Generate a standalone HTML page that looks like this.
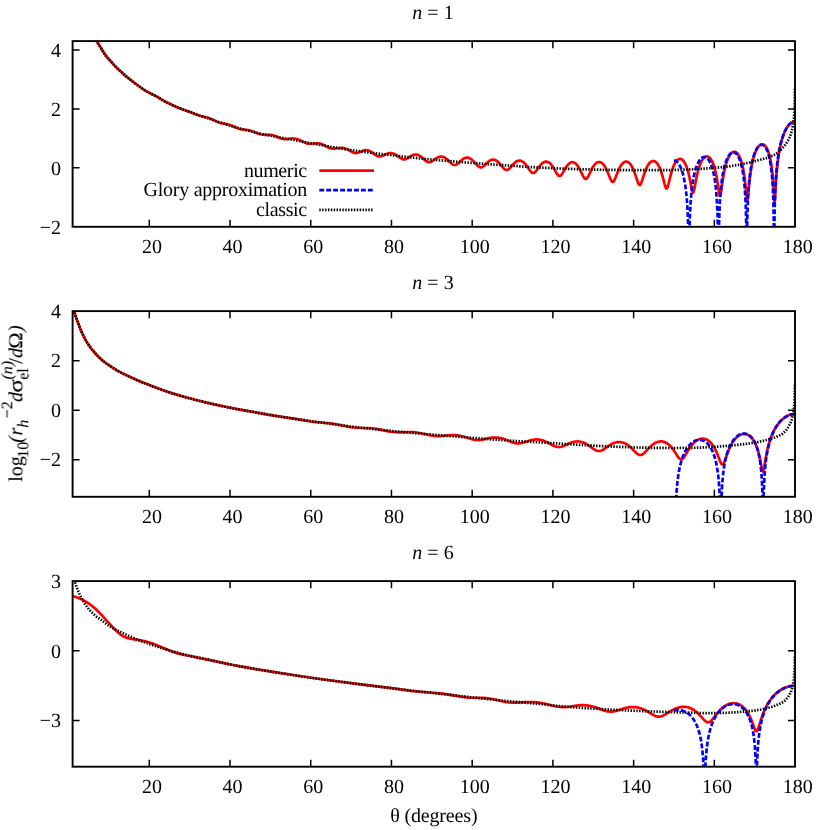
<!DOCTYPE html>
<html><head><meta charset="utf-8"><title>chart</title>
<style>html,body{margin:0;padding:0;background:#fff}svg{display:block}text{font-family:"Liberation Serif",serif;font-size:20px;fill:#000;text-rendering:geometricPrecision}#txt{opacity:.999}</style></head>
<body>
<svg width="830" height="830" viewBox="0 0 830 830">
<rect width="830" height="830" fill="#fff"/>
<clipPath id="c1"><rect x="72.6" y="41.1" width="722.4" height="185.7"/></clipPath>
<g clip-path="url(#c1)" fill="none" stroke-linejoin="round">
<path d="M72.60,11.15 83.40,11.15 83.80,11.60 85.00,15.26 86.60,19.73 88.20,23.83 89.80,27.60 91.40,31.10 93.40,35.14 95.00,38.15 97.00,41.66 98.20,43.64 101.00,48.00 104.20,53.32 105.80,55.57 107.80,58.00 112.20,62.98 114.60,65.56 117.00,67.99 119.40,70.26 123.00,73.50 126.60,76.66 129.40,79.01 134.20,82.73 142.20,88.52 144.60,90.13 147.00,91.58 150.20,93.29 157.80,97.09 159.40,98.04 163.00,100.40 165.40,101.70 175.00,106.28 178.20,107.71 181.40,108.94 186.60,110.66 189.00,111.52 197.40,114.96 200.60,115.95 205.80,117.17 208.20,117.84 211.00,118.90 216.60,121.53 219.00,122.48 221.40,123.16 226.60,124.13 229.00,124.73 231.40,125.59 237.00,128.03 239.40,128.82 240.60,129.10 242.20,129.38 247.80,130.03 250.20,130.53 253.00,131.43 258.60,133.74 260.20,134.26 261.40,134.54 262.60,134.73 264.20,134.83 268.20,134.76 269.80,134.80 271.40,134.96 272.60,135.18 273.80,135.50 275.40,136.05 279.80,137.97 281.00,138.44 283.00,139.00 284.60,139.19 286.20,139.17 290.60,138.58 292.60,138.43 294.20,138.49 295.80,138.73 297.40,139.17 299.00,139.77 300.60,140.50 303.80,142.11 305.40,142.83 307.00,143.37 308.20,143.63 309.40,143.77 311.00,143.78 315.40,143.33 317.00,143.26 318.60,143.37 319.80,143.58 321.00,143.92 322.60,144.54 324.20,145.33 327.40,147.06 328.60,147.62 330.20,148.20 331.40,148.48 332.60,148.61 334.20,148.60 339.00,148.02 340.60,147.92 342.20,147.96 343.80,148.18 345.00,148.48 346.60,149.05 348.20,149.80 352.60,152.21 353.80,152.70 355.00,153.00 356.20,153.08 357.00,153.00 357.80,152.83 359.40,152.27 362.60,150.88 364.20,150.39 365.80,150.19 367.00,150.25 367.80,150.40 368.60,150.62 369.40,150.93 370.60,151.54 372.20,152.55 375.40,154.85 377.00,155.78 377.80,156.11 378.60,156.33 379.80,156.44 381.00,156.28 382.20,155.91 386.20,154.07 387.80,153.48 389.00,153.20 389.80,153.11 391.40,153.15 393.00,153.50 393.80,153.79 395.00,154.36 397.00,155.60 400.20,157.91 401.80,158.85 403.00,159.29 404.20,159.43 405.40,159.25 406.60,158.79 407.80,158.11 411.00,156.00 412.20,155.34 413.00,154.98 413.80,154.72 414.60,154.55 415.40,154.48 416.20,154.50 417.00,154.63 417.80,154.86 418.60,155.18 419.40,155.60 420.20,156.10 421.40,157.00 425.00,160.17 426.20,161.10 427.00,161.60 427.80,161.97 428.60,162.17 429.00,162.22 429.40,162.22 430.20,162.09 431.00,161.82 431.80,161.43 433.00,160.67 436.20,158.38 437.40,157.66 438.20,157.28 439.40,156.85 440.20,156.69 441.00,156.62 441.80,156.66 442.60,156.79 443.40,157.02 444.20,157.35 445.40,158.03 446.20,158.60 447.40,159.59 450.60,162.69 451.80,163.75 452.60,164.33 453.40,164.74 454.20,164.97 454.60,165.01 455.00,165.00 455.80,164.82 456.60,164.45 457.40,163.93 458.60,162.93 461.80,159.99 463.00,159.07 463.80,158.57 465.00,158.00 465.80,157.76 466.60,157.64 467.80,157.67 468.60,157.84 469.40,158.11 470.20,158.50 471.40,159.29 472.20,159.93 473.40,161.07 477.00,165.05 478.20,166.20 479.40,167.03 480.20,167.33 480.60,167.40 481.00,167.41 481.80,167.25 482.60,166.88 483.40,166.34 484.60,165.28 487.80,162.16 489.00,161.18 489.80,160.65 491.00,160.04 491.80,159.78 492.60,159.65 493.80,159.67 494.60,159.83 495.40,160.12 496.20,160.52 497.40,161.35 498.20,162.03 499.40,163.25 503.00,167.57 504.20,168.82 505.00,169.45 505.40,169.69 506.20,169.97 506.60,170.01 507.00,169.99 507.80,169.74 508.20,169.52 509.00,168.93 510.20,167.75 513.80,163.68 515.00,162.56 515.80,161.94 517.00,161.23 518.20,160.78 519.40,160.62 520.20,160.68 521.00,160.87 522.20,161.39 523.00,161.90 524.20,162.91 525.00,163.73 526.20,165.17 529.40,169.73 530.60,171.32 531.40,172.16 531.80,172.48 532.60,172.91 533.00,173.00 533.40,173.00 533.80,172.92 534.20,172.75 534.60,172.50 535.40,171.79 536.60,170.35 539.00,166.98 540.20,165.42 541.40,164.07 542.20,163.32 543.40,162.44 544.60,161.87 545.80,161.63 546.60,161.64 547.80,161.95 548.60,162.34 549.80,163.21 551.00,164.41 551.80,165.39 553.00,167.12 554.20,169.09 556.20,172.60 557.40,174.45 558.20,175.36 558.60,175.68 559.00,175.90 559.40,176.00 559.80,175.99 560.20,175.86 560.60,175.62 561.00,175.28 561.80,174.33 562.60,173.12 565.00,168.98 566.20,167.05 567.40,165.40 568.60,164.06 569.80,163.08 571.00,162.46 571.80,162.25 572.20,162.21 573.00,162.24 574.20,162.61 575.40,163.35 576.60,164.47 577.40,165.44 578.20,166.57 579.40,168.58 580.60,170.91 583.00,175.93 583.80,177.36 584.60,178.42 585.00,178.76 585.40,178.96 585.80,179.00 586.20,178.89 586.60,178.63 587.00,178.23 587.80,177.08 588.60,175.60 591.80,168.99 593.00,166.89 594.20,165.15 595.40,163.79 596.60,162.81 597.80,162.22 598.60,162.03 599.40,162.01 600.20,162.16 601.00,162.48 602.20,163.29 603.40,164.50 604.60,166.12 605.80,168.18 607.00,170.66 608.20,173.51 610.20,178.55 611.00,180.27 611.40,180.96 611.80,181.50 612.20,181.85 612.60,182.00 613.00,181.94 613.40,181.67 613.80,181.20 614.60,179.79 615.40,177.94 617.40,172.77 618.60,169.92 619.80,167.45 621.00,165.43 622.20,163.84 623.00,163.02 623.80,162.39 624.20,162.15 625.00,161.79 625.80,161.62 626.60,161.62 627.40,161.81 628.20,162.19 629.40,163.11 630.60,164.48 631.80,166.32 633.00,168.66 634.20,171.53 635.40,174.90 637.40,181.05 638.20,183.18 638.60,184.00 639.00,184.60 639.40,184.94 639.80,184.99 640.20,184.74 640.60,184.22 641.00,183.45 641.40,182.50 642.20,180.20 644.20,173.95 645.00,171.67 646.20,168.67 647.00,166.96 647.80,165.48 649.00,163.68 649.80,162.75 650.60,162.02 651.40,161.49 652.20,161.15 653.00,161.00 653.80,161.04 654.60,161.28 655.40,161.71 656.60,162.74 657.40,163.70 658.20,164.89 659.40,167.14 660.60,170.01 661.80,173.57 663.00,177.83 664.60,184.12 665.40,186.84 665.80,187.82 666.20,188.43 666.60,188.60 667.00,188.30 667.40,187.57 667.80,186.46 668.60,183.54 670.60,175.32 671.40,172.40 672.60,168.62 673.40,166.49 674.20,164.66 675.40,162.45 676.20,161.29 677.00,160.37 677.80,159.67 678.60,159.20 679.40,158.94 680.20,158.89 681.00,159.05 681.80,159.44 682.60,160.04 683.40,160.89 684.20,161.98 685.00,163.34 685.80,164.99 686.60,166.97 687.80,170.62 689.00,175.24 689.80,178.92 691.80,189.26 692.20,190.92 692.60,192.06 693.00,192.50 693.40,192.18 693.80,191.15 694.60,187.64 696.20,179.10 697.40,173.50 698.60,168.92 699.40,166.37 700.20,164.19 701.00,162.32 701.80,160.75 702.60,159.45 703.80,157.95 704.60,157.24 705.40,156.75 706.20,156.47 707.00,156.40 707.40,156.45 708.20,156.70 708.60,156.90 709.40,157.48 710.20,158.30 711.00,159.36 711.80,160.70 712.60,162.33 713.40,164.30 714.20,166.66 715.40,171.07 716.60,176.78 717.40,181.48 719.00,192.32 719.40,194.51 719.80,195.81 720.20,195.86 720.60,194.64 721.00,192.45 722.60,181.09 723.80,173.82 725.00,168.08 725.80,164.95 726.60,162.29 727.40,160.01 728.20,158.07 729.00,156.44 730.20,154.49 731.00,153.50 731.40,153.09 732.20,152.44 732.60,152.20 733.40,151.87 734.20,151.75 734.60,151.77 735.40,151.98 735.80,152.16 736.60,152.69 737.40,153.47 737.80,153.95 738.60,155.11 739.80,157.41 740.60,159.37 741.40,161.75 742.20,164.63 743.40,170.14 744.20,174.89 745.00,180.84 745.40,184.35 746.60,196.50 747.00,199.56 747.40,200.32 747.80,198.30 749.40,181.85 749.80,178.28 750.60,172.19 751.80,165.07 752.60,161.30 753.40,158.11 754.20,155.40 755.40,152.05 756.60,149.42 757.80,147.40 759.00,145.90 759.40,145.52 760.20,144.90 760.60,144.68 761.40,144.38 762.20,144.28 762.60,144.32 763.40,144.54 763.80,144.74 764.60,145.31 765.00,145.69 765.80,146.64 766.20,147.23 767.00,148.63 767.80,150.38 768.60,152.55 769.40,155.23 770.20,158.55 771.00,162.73 771.40,165.25 772.20,171.46 772.60,175.36 773.40,185.59 774.20,199.28 774.60,203.00 775.00,199.18 775.80,184.48 776.20,178.33 776.60,173.13 777.40,164.81 778.20,158.36 779.00,153.12 779.80,148.74 781.00,143.33 782.20,138.92 783.00,136.42 783.80,134.20 784.60,132.22 785.40,130.47 786.20,128.91 787.00,127.53 787.80,126.32 789.00,124.78 789.92,123.81 790.81,123.05 791.86,122.35 792.87,121.87 793.91,121.58 794.94,121.48" stroke="#ff0000" stroke-width="2.70"/>
<path d="M673.98,160.45 674.87,160.61 675.76,160.97 676.64,161.54 677.45,162.27 678.26,163.19 679.07,164.33 679.79,165.57 680.52,167.02 681.24,168.72 681.89,170.47 683.10,174.49 684.23,179.40 685.20,184.92 686.01,190.95 686.65,197.30 687.22,204.70 687.62,211.83 687.94,219.52 688.27,230.63 688.67,256.80 688.99,256.80 689.07,255.94 689.24,241.74 689.56,225.96 690.04,212.51 690.61,202.54 691.33,193.70 692.14,186.58 693.11,180.17 693.68,177.14 694.32,174.14 695.13,170.94 695.94,168.24 696.82,165.73 697.71,163.63 698.68,161.74 699.73,160.09 700.78,158.82 701.91,157.84 702.47,157.50 703.04,157.24 703.60,157.08 704.17,157.01 704.73,157.04 705.30,157.16 706.35,157.63 707.40,158.44 708.45,159.64 709.42,161.11 710.38,162.99 711.35,165.34 712.32,168.29 713.13,171.30 713.94,174.98 714.58,178.57 715.23,182.92 715.79,187.61 716.28,192.60 717.00,202.84 717.57,215.53 717.97,231.50 718.30,256.80 718.54,256.80 718.62,255.03 718.78,238.85 719.02,225.20 719.34,213.95 719.75,204.53 720.31,195.36 721.04,187.02 721.93,179.63 722.90,173.58 723.54,170.32 724.19,167.51 724.91,164.80 725.72,162.23 726.53,160.06 727.42,158.05 728.30,156.39 729.27,154.93 730.24,153.82 731.21,153.02 732.18,152.52 732.74,152.36 733.23,152.31 733.79,152.34 734.28,152.45 735.25,152.89 736.22,153.66 737.10,154.66 737.75,155.60 738.31,156.57 739.44,158.99 740.49,161.93 741.46,165.40 742.35,169.44 743.08,173.59 743.80,178.84 744.37,184.04 744.85,189.70 745.26,195.75 745.58,202.00 745.90,210.38 746.31,227.63 746.63,256.80 746.79,256.80 746.87,253.53 747.03,234.79 747.19,224.06 747.44,213.42 747.84,201.90 748.32,192.63 748.97,183.91 749.78,176.07 750.66,169.62 751.23,166.29 751.87,163.02 752.52,160.20 753.25,157.47 754.05,154.87 754.86,152.66 755.75,150.62 756.64,148.93 757.61,147.45 758.57,146.31 759.54,145.49 760.51,144.98 761.48,144.78 762.45,144.89 763.42,145.32 764.31,146.02 764.95,146.72 765.60,147.61 766.24,148.69 766.81,149.82 767.94,152.67 768.99,156.22 769.88,160.14 770.68,164.74 771.41,170.16 771.97,175.66 772.46,181.81 772.86,188.60 773.18,195.93 773.43,203.38 773.75,219.06 774.07,256.80 774.15,256.80 774.40,227.04 774.56,214.96 774.80,203.43 775.20,191.21 775.77,180.14 776.41,171.36 777.22,163.32 778.27,155.53 778.92,151.67 779.64,147.92 780.45,144.33 781.26,141.21 782.14,138.22 783.11,135.39 784.08,132.94 785.13,130.64 786.26,128.53 787.39,126.74 788.60,125.16 789.89,123.81 791.19,122.79 792.48,122.07 793.77,121.64 795.06,121.50" stroke="#0000ff" stroke-width="2.70" stroke-dasharray="4.9 2.04"/>
<path d="M72.60,11.15 83.40,11.15 83.80,11.60 85.40,16.42 87.00,20.79 88.60,24.80 90.20,28.50 91.80,31.93 93.80,35.91 95.80,39.58 97.80,42.99 101.00,48.00 104.20,53.32 105.00,54.50 106.20,56.08 108.60,58.91 113.80,64.72 116.60,67.60 119.80,70.62 126.60,76.66 131.00,80.29 134.60,83.03 140.60,87.38 143.00,89.07 145.00,90.39 147.00,91.58 149.00,92.67 158.20,97.31 163.00,100.41 165.00,101.54 167.40,102.73 171.80,104.77 178.20,107.61 183.80,109.89 190.20,112.23 197.40,114.72 208.20,118.34 218.60,122.00 225.80,124.34 235.00,127.12 244.20,129.68 253.80,132.12 261.80,133.93 275.00,136.59 287.80,139.01 333.00,147.21 346.20,149.43 356.60,150.93 369.40,152.57 400.60,156.23 417.40,158.11 427.40,159.15 437.40,160.09 464.20,162.34 491.40,164.39 527.40,166.87 543.00,167.75 561.80,168.58 581.00,169.23 601.80,169.75 625.40,170.11 648.60,170.21 667.80,170.08 675.40,169.93 682.60,169.71 691.40,169.34 700.20,168.87 708.20,168.33 716.20,167.68 723.00,167.04 728.20,166.44 733.40,165.69 739.00,164.73 744.20,163.71 748.60,162.73 763.40,158.93 765.80,158.28 767.80,157.65 769.40,157.06 771.00,156.38 773.00,155.46 775.00,154.38 776.60,153.36 778.20,152.15 780.20,150.37 782.60,147.92 784.20,146.16 785.80,144.12 787.00,142.35 788.20,140.28 789.40,137.82 790.28,135.67 791.10,133.24 791.79,130.82 792.42,128.08 792.97,125.05 793.41,122.01 793.79,118.67 794.11,115.03 794.38,110.78 794.73,101.37 794.94,88.62" stroke="#000" stroke-width="2.70" stroke-dasharray="1.44 1.44"/>
</g>
<path d="M149.30,226.80v-7.0M149.30,41.15v7.0M230.02,226.80v-7.0M230.02,41.15v7.0M310.74,226.80v-7.0M310.74,41.15v7.0M391.46,226.80v-7.0M391.46,41.15v7.0M472.18,226.80v-7.0M472.18,41.15v7.0M552.90,226.80v-7.0M552.90,41.15v7.0M633.62,226.80v-7.0M633.62,41.15v7.0M714.34,226.80v-7.0M714.34,41.15v7.0M72.60,50.00h7.0M795.00,50.00h-7.0M72.60,108.93h7.0M795.00,108.93h-7.0M72.60,167.87h7.0M795.00,167.87h-7.0" stroke="#000" stroke-width="1.50" fill="none"/>
<rect x="72.6" y="41.1" width="722.4" height="185.7" fill="none" stroke="#000" stroke-width="1.90"/>
<clipPath id="c2"><rect x="72.6" y="311.1" width="722.4" height="185.7"/></clipPath>
<g clip-path="url(#c2)" fill="none" stroke-linejoin="round">
<path d="M72.60,304.26 73.80,309.82 75.00,314.20 75.80,316.63 77.80,322.22 79.80,327.51 82.20,333.21 83.40,335.80 84.60,338.15 87.00,342.40 88.20,344.31 89.80,346.63 91.40,348.75 93.00,350.70 96.60,354.75 98.60,356.83 100.20,358.38 103.40,361.17 105.40,362.73 107.80,364.48 113.40,368.24 115.80,369.72 118.20,371.11 123.00,373.61 131.80,377.77 139.00,380.92 153.80,386.77 162.60,390.07 169.40,392.41 177.40,394.89 186.60,397.50 197.00,400.25 206.60,402.61 216.60,404.90 226.60,407.03 235.80,408.84 269.40,414.90 282.20,416.95 297.00,419.10 310.60,421.48 316.20,422.18 327.00,423.01 332.20,423.60 337.40,424.47 347.80,426.59 350.60,427.05 353.00,427.36 357.80,427.73 368.60,428.06 371.40,428.26 373.80,428.52 376.20,428.86 379.00,429.35 388.60,431.35 391.00,431.75 393.00,432.00 395.80,432.21 398.60,432.28 407.00,432.07 410.20,432.06 413.00,432.18 415.80,432.43 418.20,432.76 421.00,433.26 430.60,435.37 432.60,435.71 434.60,435.96 437.40,436.14 440.20,436.11 443.00,435.92 449.00,435.34 452.20,435.16 455.00,435.19 457.40,435.38 459.80,435.74 462.20,436.26 465.00,437.04 471.80,439.19 474.20,439.75 476.20,440.02 478.60,440.08 481.00,439.86 483.40,439.42 489.00,438.17 492.20,437.67 495.00,437.50 497.80,437.65 500.20,438.03 502.60,438.64 505.40,439.59 510.60,441.70 512.60,442.44 515.00,443.11 517.00,443.40 518.20,443.44 519.40,443.37 520.60,443.22 521.80,442.98 523.80,442.43 529.80,440.51 531.40,440.09 533.00,439.77 534.60,439.55 535.80,439.47 537.40,439.46 538.60,439.55 539.80,439.71 541.40,440.04 542.60,440.37 544.20,440.93 547.00,442.18 552.20,444.97 554.20,445.94 556.20,446.66 557.40,446.92 558.20,447.02 559.00,447.04 560.20,446.95 561.40,446.71 562.60,446.35 564.60,445.55 569.80,443.17 571.40,442.56 573.00,442.06 574.60,441.70 576.20,441.49 577.80,441.44 579.00,441.51 580.60,441.75 581.80,442.04 583.40,442.57 585.00,443.26 586.60,444.11 588.20,445.10 593.40,448.79 595.00,449.80 596.20,450.40 597.00,450.70 597.80,450.91 598.60,451.02 599.40,451.01 600.60,450.81 601.40,450.55 602.60,450.00 604.60,448.77 608.20,446.22 610.20,444.91 612.20,443.79 613.80,443.07 615.80,442.42 617.40,442.12 619.00,442.00 620.60,442.08 622.60,442.47 624.20,443.02 625.80,443.77 627.40,444.74 629.00,445.91 630.60,447.28 632.20,448.81 635.40,452.08 637.00,453.53 637.80,454.13 638.60,454.59 639.40,454.89 640.20,455.01 641.00,454.95 641.80,454.70 642.60,454.28 643.40,453.71 645.00,452.24 648.60,448.38 650.60,446.38 652.60,444.67 654.20,443.55 656.20,442.47 657.40,442.01 658.20,441.77 659.40,441.52 660.20,441.44 661.80,441.45 663.00,441.62 663.80,441.81 665.00,442.23 665.80,442.59 667.00,443.26 667.80,443.80 669.00,444.75 669.80,445.48 671.40,447.17 673.40,449.74 675.00,452.12 677.40,455.94 678.60,457.66 679.40,458.58 679.80,458.94 680.60,459.41 681.00,459.50 681.40,459.50 681.80,459.39 682.20,459.20 683.00,458.54 683.80,457.60 685.00,455.79 688.60,449.68 690.20,447.24 692.20,444.61 693.00,443.70 694.20,442.49 695.00,441.77 696.20,440.84 697.40,440.08 698.60,439.47 699.80,439.03 701.00,438.74 702.20,438.61 703.40,438.64 704.60,438.83 705.80,439.19 707.00,439.74 708.20,440.46 709.40,441.39 710.60,442.54 711.80,443.91 712.60,444.97 713.80,446.80 714.60,448.18 716.20,451.39 717.40,454.19 719.80,460.43 720.60,462.34 721.40,463.78 721.80,464.24 722.20,464.48 722.60,464.47 723.00,464.23 723.40,463.76 723.80,463.08 724.60,461.28 727.80,452.38 729.40,448.46 730.20,446.73 731.40,444.41 732.60,442.38 733.80,440.62 735.00,439.10 736.60,437.42 737.80,436.40 739.40,435.33 740.60,434.74 742.20,434.22 743.80,434.00 745.00,434.04 745.80,434.17 746.60,434.38 747.80,434.85 748.60,435.28 749.40,435.81 750.60,436.79 751.80,438.03 753.00,439.56 754.20,441.45 755.40,443.75 756.20,445.56 757.00,447.64 757.80,450.04 758.60,452.83 759.80,457.89 761.80,468.43 762.20,470.23 762.60,471.41 763.00,471.67 763.40,470.92 763.80,469.32 765.80,457.52 766.60,453.28 767.40,449.56 768.60,444.78 769.80,440.77 771.40,436.30 773.00,432.59 774.60,429.45 776.60,426.15 777.80,424.45 779.00,422.92 780.20,421.55 781.40,420.33 782.60,419.23 783.80,418.26 785.00,417.39 786.60,416.41 787.80,415.79 789.40,415.11 790.81,414.64 792.15,414.31 793.53,414.08 794.94,413.96" stroke="#ff0000" stroke-width="2.70"/>
<path d="M673.98,498.93 674.46,511.51 674.79,526.80 675.35,526.80 675.59,514.42 676.00,502.13 676.48,493.07 677.21,484.11 678.10,476.63 678.66,472.94 679.23,469.81 679.87,466.72 680.52,464.05 681.33,461.14 682.13,458.61 683.10,455.97 684.23,453.33 685.36,451.06 686.57,448.97 687.86,447.06 689.24,445.34 690.69,443.82 692.14,442.58 693.68,441.54 695.21,440.76 696.82,440.21 698.44,439.92 700.05,439.90 701.59,440.13 703.12,440.62 704.65,441.38 705.70,442.07 706.67,442.85 707.64,443.76 708.53,444.74 709.42,445.87 710.30,447.16 711.11,448.50 711.92,450.02 712.64,451.56 713.37,453.30 714.66,457.02 715.79,461.14 716.76,465.65 717.57,470.46 718.21,475.39 718.78,480.99 719.26,487.41 719.67,494.86 719.99,503.59 720.23,513.78 720.39,524.96 720.47,526.80 720.80,526.80 721.12,509.11 721.36,500.45 721.77,490.97 722.33,482.23 723.06,474.53 723.95,467.78 724.51,464.38 725.08,461.46 725.72,458.55 726.45,455.71 727.26,452.97 728.14,450.36 729.11,447.88 730.16,445.56 731.29,443.40 732.42,441.54 733.71,439.71 735.00,438.17 736.38,436.81 737.75,435.71 739.20,434.80 740.65,434.14 742.11,433.73 743.56,433.56 745.01,433.63 746.47,433.96 747.60,434.40 748.65,434.97 749.70,435.70 750.74,436.61 751.71,437.63 752.68,438.84 753.57,440.15 754.38,441.53 755.18,443.12 755.91,444.76 756.64,446.65 757.28,448.56 757.93,450.76 758.49,452.97 759.54,458.05 760.35,463.25 761.00,468.76 761.56,475.30 761.96,481.73 762.29,488.89 762.53,496.53 762.77,508.62 762.93,523.82 763.01,526.80 763.18,526.80 763.42,507.72 763.74,492.88 764.14,482.38 764.71,472.98 765.52,464.06 766.00,460.03 766.57,456.08 767.21,452.27 767.86,449.01 768.66,445.50 769.47,442.46 770.44,439.29 771.57,436.10 772.70,433.34 773.99,430.58 775.36,428.04 776.82,425.70 778.35,423.57 779.97,421.63 781.66,419.89 783.44,418.35 785.29,417.02 787.15,415.96 789.09,415.11 791.02,414.50 793.04,414.12 795.06,414.00" stroke="#0000ff" stroke-width="2.70" stroke-dasharray="4.9 2.04"/>
<path d="M72.60,304.26 73.80,309.82 74.60,312.86 75.40,315.44 79.00,325.46 80.60,329.46 82.20,333.21 83.40,335.80 84.60,338.15 85.80,340.35 87.40,343.05 88.60,344.91 90.20,347.18 91.80,349.25 93.40,351.18 95.80,353.88 97.80,356.01 99.80,358.00 101.80,359.83 103.80,361.49 106.20,363.32 108.60,365.04 111.80,367.20 116.60,370.20 119.00,371.55 121.40,372.81 125.00,374.58 130.60,377.21 138.20,380.58 142.60,382.38 151.80,385.99 160.60,389.35 168.20,392.01 175.80,394.41 187.00,397.61 199.80,400.96 211.80,403.82 225.00,406.70 236.20,408.91 263.80,413.92 273.00,415.50 284.20,417.26 304.20,420.18 335.40,424.53 350.60,426.47 369.00,428.60 393.40,431.14 418.20,433.44 432.20,434.62 495.80,439.70 511.80,440.76 545.80,442.75 589.80,445.44 599.80,445.99 615.80,446.74 635.00,447.46 653.40,447.87 671.80,448.03 689.00,447.90 701.00,447.58 712.20,447.00 725.00,446.05 739.00,444.74 747.80,443.70 755.00,442.60 758.60,441.92 761.80,441.23 765.00,440.45 767.80,439.68 771.00,438.69 774.60,437.43 777.80,436.21 779.80,435.31 781.40,434.44 782.60,433.63 783.80,432.61 785.00,431.39 786.60,429.53 787.80,427.89 789.00,425.95 789.80,424.43 790.71,422.39 791.55,420.09 792.22,417.80 792.82,415.25 793.29,412.70 793.70,409.89 794.04,406.83 794.33,403.26 794.72,395.10 794.94,383.88" stroke="#000" stroke-width="2.70" stroke-dasharray="1.44 1.44"/>
</g>
<path d="M149.30,496.80v-7.0M149.30,311.15v7.0M230.02,496.80v-7.0M230.02,311.15v7.0M310.74,496.80v-7.0M310.74,311.15v7.0M391.46,496.80v-7.0M391.46,311.15v7.0M472.18,496.80v-7.0M472.18,311.15v7.0M552.90,496.80v-7.0M552.90,311.15v7.0M633.62,496.80v-7.0M633.62,311.15v7.0M714.34,496.80v-7.0M714.34,311.15v7.0M72.60,360.66h7.0M795.00,360.66h-7.0M72.60,410.16h7.0M795.00,410.16h-7.0M72.60,459.67h7.0M795.00,459.67h-7.0" stroke="#000" stroke-width="1.50" fill="none"/>
<rect x="72.6" y="311.1" width="722.4" height="185.7" fill="none" stroke="#000" stroke-width="1.90"/>
<clipPath id="c3"><rect x="72.6" y="581.1" width="722.4" height="185.6"/></clipPath>
<g clip-path="url(#c3)" fill="none" stroke-linejoin="round">
<path d="M72.60,596.11 75.00,596.75 77.80,597.72 79.80,598.55 82.60,599.90 85.40,601.41 87.80,602.87 89.80,604.23 92.20,606.05 93.80,607.37 95.40,608.81 99.80,613.11 104.20,617.80 112.20,626.66 115.80,630.36 117.40,631.87 120.20,634.28 121.40,635.20 122.60,635.98 124.20,636.77 125.80,637.40 127.40,637.93 129.40,638.46 133.00,639.20 137.80,639.87 141.80,640.56 145.40,641.33 148.60,642.18 152.60,643.61 167.80,649.82 171.40,651.23 174.60,652.38 177.80,653.34 181.00,654.17 184.20,654.88 187.40,655.51 190.20,655.98 196.60,657.38 211.40,660.41 226.20,663.64 233.00,665.01 241.80,666.66 251.80,668.42 276.20,672.40 301.00,676.28 323.40,679.48 356.60,683.85 393.40,688.41 411.00,690.85 418.60,691.66 433.40,692.74 440.20,693.41 447.40,694.42 460.60,696.68 466.20,697.38 469.00,697.60 471.80,697.73 483.00,697.93 485.80,698.10 488.20,698.34 491.00,698.73 493.80,699.25 502.20,701.22 505.00,701.82 507.40,702.23 509.80,702.52 512.60,702.69 515.80,702.70 525.40,702.16 529.40,702.04 533.40,702.13 537.00,702.41 540.20,702.83 543.00,703.33 546.20,704.04 555.00,706.21 557.80,706.73 560.20,707.02 563.40,707.14 566.60,706.98 569.80,706.61 576.60,705.58 580.20,705.21 583.40,705.13 586.60,705.31 589.40,705.72 592.60,706.46 596.20,707.60 602.20,709.87 604.60,710.69 607.00,711.30 608.20,711.51 609.40,711.63 610.60,711.67 612.20,711.59 613.40,711.44 615.00,711.13 617.40,710.50 624.20,708.37 626.20,707.86 628.20,707.45 630.20,707.17 631.80,707.05 633.80,707.04 635.40,707.15 637.40,707.44 639.00,707.80 640.60,708.26 642.60,709.00 644.20,709.71 646.20,710.74 652.20,714.31 654.20,715.40 655.40,715.93 656.60,716.33 657.80,716.58 658.60,716.64 659.40,716.63 660.60,716.46 661.80,716.13 663.00,715.65 665.40,714.37 669.80,711.62 672.20,710.23 675.00,708.84 677.00,708.02 679.40,707.30 681.40,706.94 683.40,706.79 685.40,706.87 686.60,707.03 687.80,707.28 689.80,707.90 691.00,708.40 692.20,708.99 694.20,710.21 696.20,711.73 698.20,713.53 700.20,715.61 703.80,719.63 705.00,720.81 705.80,721.46 706.60,721.95 707.40,722.24 707.80,722.31 708.60,722.28 709.40,722.02 710.20,721.55 711.00,720.89 712.60,719.17 717.00,713.53 719.00,711.17 720.60,709.50 721.80,708.37 723.00,707.36 724.20,706.46 725.40,705.68 726.60,705.00 727.80,704.44 729.40,703.84 731.00,703.44 732.20,703.26 733.80,703.19 735.00,703.26 736.60,703.53 738.20,704.01 739.80,704.72 741.00,705.41 742.60,706.57 743.80,707.64 745.00,708.89 746.20,710.36 747.40,712.06 748.20,713.36 749.40,715.55 750.20,717.21 751.80,721.01 754.20,727.64 755.00,729.61 755.40,730.39 755.80,730.96 756.20,731.26 756.60,731.27 757.00,730.97 757.40,730.39 758.20,728.54 759.00,726.13 761.00,719.61 762.20,716.03 763.40,712.81 765.00,709.05 766.60,705.81 768.20,703.00 770.20,699.97 772.20,697.38 773.40,696.01 774.60,694.76 777.00,692.57 778.20,691.61 779.80,690.47 781.00,689.71 782.60,688.82 783.80,688.22 785.40,687.54 787.00,686.97 788.60,686.51 790.16,686.16 791.79,685.90 793.38,685.75 794.94,685.69" stroke="#ff0000" stroke-width="2.70"/>
<path d="M673.98,710.52 675.84,710.19 677.69,710.06 679.55,710.14 681.33,710.42 683.10,710.90 684.80,711.57 686.49,712.47 688.11,713.55 689.56,714.75 691.01,716.18 692.38,717.80 693.68,719.60 694.89,721.58 696.02,723.75 696.99,725.91 697.95,728.43 698.68,730.62 699.41,733.15 700.05,735.74 700.70,738.78 701.26,741.93 701.75,745.12 702.55,752.03 703.20,760.14 703.68,769.62 704.01,780.01 704.33,796.80 704.65,796.80 704.98,779.21 705.38,767.10 705.95,757.19 706.35,752.24 706.75,748.26 707.32,743.74 707.88,740.04 708.53,736.51 709.34,732.82 710.14,729.71 711.11,726.53 712.08,723.82 713.21,721.09 714.58,718.26 716.12,715.60 717.81,713.13 719.59,710.98 721.44,709.12 723.46,707.48 725.48,706.20 727.58,705.21 729.68,704.54 730.81,704.31 731.86,704.18 732.99,704.13 734.04,704.17 735.09,704.29 736.13,704.49 737.18,704.78 738.15,705.14 739.12,705.58 740.09,706.10 741.95,707.39 743.72,709.03 744.61,710.01 745.50,711.13 747.11,713.58 748.57,716.35 749.86,719.43 750.99,722.79 752.04,726.73 752.92,730.99 753.65,735.44 754.30,740.58 754.78,745.65 755.18,751.21 755.51,757.21 755.75,763.34 755.99,772.27 756.31,796.80 756.48,796.80 756.56,795.60 756.80,774.77 757.12,762.20 757.61,751.47 758.25,742.54 758.66,738.44 759.14,734.37 759.70,730.45 760.35,726.70 761.08,723.15 761.88,719.79 762.77,716.62 763.74,713.63 764.95,710.41 766.24,707.45 767.70,704.58 769.23,701.96 770.84,699.55 772.62,697.26 774.48,695.19 776.49,693.25 778.59,691.53 780.77,690.04 783.03,688.76 785.37,687.69 787.71,686.88 790.14,686.28 792.56,685.92 795.06,685.80" stroke="#0000ff" stroke-width="2.70" stroke-dasharray="4.9 2.04"/>
<path d="M72.60,571.17 73.80,577.10 74.60,580.34 75.40,583.17 76.20,585.68 77.40,588.99 78.20,590.99 79.40,593.72 80.60,596.21 82.20,599.28 83.80,602.10 85.00,604.00 86.60,606.30 88.20,608.39 89.80,610.28 91.40,611.99 93.80,614.31 96.60,616.68 102.20,620.65 107.40,624.78 109.40,626.12 111.40,627.33 115.40,629.54 120.60,632.08 136.20,639.13 139.00,640.31 141.40,641.21 148.20,643.47 156.60,646.53 161.00,647.96 166.20,649.52 173.80,651.69 184.60,654.61 189.40,655.79 193.80,656.79 211.00,660.33 226.20,663.64 233.00,665.01 241.40,666.59 255.80,669.10 282.60,673.43 299.80,676.10 315.40,678.37 335.00,681.04 359.40,684.20 382.60,687.10 415.00,691.02 429.40,692.66 462.20,696.24 486.60,698.99 499.80,700.38 509.40,701.28 537.80,703.78 543.80,704.40 555.40,705.74 560.20,706.22 574.20,707.34 590.20,708.41 616.20,709.89 643.80,711.16 669.00,712.07 703.40,713.05 713.80,713.13 724.20,712.88 735.00,712.32 746.20,711.44 753.40,710.69 759.40,709.85 762.20,709.34 764.60,708.83 769.40,707.56 772.20,706.67 775.00,705.65 778.60,704.20 781.00,703.11 782.60,702.26 783.80,701.51 785.00,700.59 786.20,699.41 787.40,697.95 788.60,696.23 789.40,694.90 790.39,692.97 791.20,691.05 791.86,689.14 792.48,686.99 793.02,684.60 793.45,682.21 793.82,679.58 794.13,676.71 794.38,673.60 794.73,666.19 794.94,656.15" stroke="#000" stroke-width="2.70" stroke-dasharray="1.44 1.44"/>
</g>
<path d="M149.30,766.80v-7.0M149.30,581.15v7.0M230.02,766.80v-7.0M230.02,581.15v7.0M310.74,766.80v-7.0M310.74,581.15v7.0M391.46,766.80v-7.0M391.46,581.15v7.0M472.18,766.80v-7.0M472.18,581.15v7.0M552.90,766.80v-7.0M552.90,581.15v7.0M633.62,766.80v-7.0M633.62,581.15v7.0M714.34,766.80v-7.0M714.34,581.15v7.0M72.60,650.77h7.0M795.00,650.77h-7.0M72.60,720.39h7.0M795.00,720.39h-7.0" stroke="#000" stroke-width="1.50" fill="none"/>
<rect x="72.6" y="581.1" width="722.4" height="185.6" fill="none" stroke="#000" stroke-width="1.90"/>
<path d="M319.3,170.6H374.0" stroke="#ff0000" stroke-width="2.7" fill="none"/>
<path d="M319.3,190.2H374.0" stroke="#0000ff" stroke-width="2.7" fill="none" stroke-dasharray="4.9 2.04"/>
<path d="M319.3,209.8H374.0" stroke="#000" stroke-width="2.7" fill="none" stroke-dasharray="1.44 1.44"/>

<g id="txt">
<text x="151.9" y="253.2" text-anchor="middle">20</text>
<text x="232.6" y="253.2" text-anchor="middle">40</text>
<text x="313.3" y="253.2" text-anchor="middle">60</text>
<text x="394.1" y="253.2" text-anchor="middle">80</text>
<text x="474.8" y="253.2" text-anchor="middle">100</text>
<text x="555.5" y="253.2" text-anchor="middle">120</text>
<text x="636.2" y="253.2" text-anchor="middle">140</text>
<text x="716.9" y="253.2" text-anchor="middle">160</text>
<text x="797.7" y="253.2" text-anchor="middle">180</text>
<text x="61" y="56.7" text-anchor="end">4</text>
<text x="61" y="115.6" text-anchor="end">2</text>
<text x="61" y="174.6" text-anchor="end">0</text>
<text x="61" y="233.5" text-anchor="end">−2</text>
<text x="433" y="18.6" text-anchor="middle"><tspan font-style="italic">n</tspan> = 1</text>
<text x="151.9" y="523.2" text-anchor="middle">20</text>
<text x="232.6" y="523.2" text-anchor="middle">40</text>
<text x="313.3" y="523.2" text-anchor="middle">60</text>
<text x="394.1" y="523.2" text-anchor="middle">80</text>
<text x="474.8" y="523.2" text-anchor="middle">100</text>
<text x="555.5" y="523.2" text-anchor="middle">120</text>
<text x="636.2" y="523.2" text-anchor="middle">140</text>
<text x="716.9" y="523.2" text-anchor="middle">160</text>
<text x="797.7" y="523.2" text-anchor="middle">180</text>
<text x="61" y="317.8" text-anchor="end">4</text>
<text x="61" y="367.4" text-anchor="end">2</text>
<text x="61" y="416.9" text-anchor="end">0</text>
<text x="61" y="466.4" text-anchor="end">−2</text>
<text x="433" y="288.6" text-anchor="middle"><tspan font-style="italic">n</tspan> = 3</text>
<text x="151.9" y="793.2" text-anchor="middle">20</text>
<text x="232.6" y="793.2" text-anchor="middle">40</text>
<text x="313.3" y="793.2" text-anchor="middle">60</text>
<text x="394.1" y="793.2" text-anchor="middle">80</text>
<text x="474.8" y="793.2" text-anchor="middle">100</text>
<text x="555.5" y="793.2" text-anchor="middle">120</text>
<text x="636.2" y="793.2" text-anchor="middle">140</text>
<text x="716.9" y="793.2" text-anchor="middle">160</text>
<text x="797.7" y="793.2" text-anchor="middle">180</text>
<text x="61" y="587.9" text-anchor="end">3</text>
<text x="61" y="657.5" text-anchor="end">0</text>
<text x="61" y="727.1" text-anchor="end">−3</text>
<text x="433" y="558.6" text-anchor="middle"><tspan font-style="italic">n</tspan> = 6</text>
<text x="244.0" y="176.6" textLength="63.2" lengthAdjust="spacing">numeric</text>
<text x="143.6" y="196.2" textLength="163.6" lengthAdjust="spacing">Glory approximation</text>
<text x="256.0" y="215.8" textLength="51.2" lengthAdjust="spacing">classic</text>
<text x="433.8" y="822.3" text-anchor="middle" style="letter-spacing:-0.15px">θ (degrees)</text>
<g stroke="#000" stroke-width="0.1" transform="translate(22.3,482) rotate(-90)">
<text x="0.32" y="0.00">log</text>
<text x="24.22" y="5.80" style="font-size:16px">10</text>
<text x="39.15" y="0.00" style="font-style:italic">(</text>
<text x="46.42" y="0.00" style="font-style:italic">r</text>
<text x="54.28" y="5.80" style="font-style:italic;font-size:16px">h</text>
<text x="63.85" y="-9.60" style="font-size:16px">−2</text>
<text x="79.98" y="0.00" style="font-style:italic">d</text>
<text x="89.35" y="0.00" textLength="13.60" lengthAdjust="spacingAndGlyphs">σ</text>
<text x="102.28" y="5.80" style="font-size:16px">el</text>
<text x="102.38" y="-10.00" style="font-style:italic;font-size:16px">(n)</text>
<text x="118.30" y="0.00">/</text>
<text x="124.08" y="0.00" style="font-style:italic">d</text>
<text x="133.20" y="0.00" textLength="16.38" lengthAdjust="spacingAndGlyphs">Ω</text>
<text x="149.93" y="0.00" style="font-style:italic">)</text>
</g>
</g>
</svg>
</body></html>
